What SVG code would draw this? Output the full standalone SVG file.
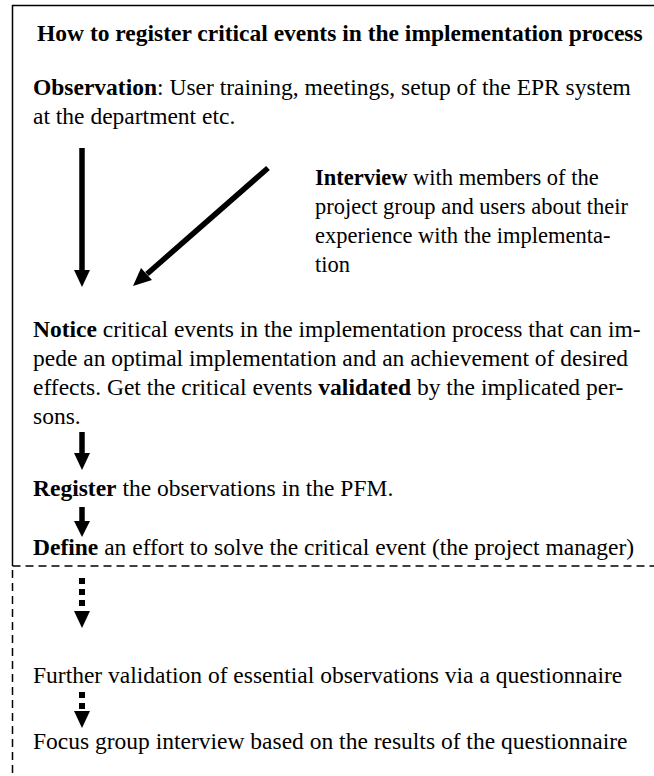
<svg xmlns="http://www.w3.org/2000/svg" width="654" height="776" viewBox="0 0 654 776">
  <style>
    text { font-family: "Liberation Serif", "Times New Roman", serif; font-size: 23.5px; fill: #000; }
    .b { font-weight: bold; }
    .side { font-size: 22.5px; }
    .frame { fill: none; stroke: #000; stroke-width: 1.5; }
    .dash { fill: none; stroke: #000; stroke-width: 1.5; stroke-dasharray: 8 5; }
    .shaft { stroke: #000; stroke-width: 5.5; fill: none; }
    .dots { stroke: #000; stroke-width: 6; fill: none; stroke-dasharray: 6 5; }
    .head { fill: #000; }
  </style>

  <!-- outer frame: solid upper part, dashed lower part -->
  <g id="frame">
    <path class="frame" d="M654,5.5 H12.5 V566"/>
    <path class="dash" d="M12.5,566 H654"/>
    <path class="dash" d="M12.5,570 V776"/>
  </g>

  <g id="title">
    <text class="b" x="37" y="41">How to register critical events in the implementation process</text>
  </g>

  <g id="observation">
    <text x="33" y="95"><tspan class="b">Observation</tspan>: User training, meetings, setup of the EPR system</text>
    <text x="33" y="124">at the department etc.</text>
  </g>

  <g id="interview">
    <text class="side" x="315" y="185"><tspan class="b">Interview</tspan> with members of the</text>
    <text class="side" x="315" y="214">project group and users about their</text>
    <text class="side" x="315" y="243">experience with the implementa-</text>
    <text class="side" x="315" y="272">tion</text>
  </g>

  <g id="notice">
    <text x="33" y="337"><tspan class="b">Notice</tspan> critical events in the implementation process that can im-</text>
    <text x="33" y="366">pede an optimal implementation and an achievement of desired</text>
    <text x="33" y="395">effects. Get the critical events <tspan class="b">validated</tspan> by the implicated per-</text>
    <text x="33" y="424">sons.</text>
  </g>

  <g id="register">
    <text x="33" y="496"><tspan class="b">Register</tspan> the observations in the PFM.</text>
  </g>

  <g id="define">
    <text x="33" y="555"><tspan class="b">Define</tspan> an effort to solve the critical event (the project manager)</text>
  </g>

  <g id="validation">
    <text x="33" y="683">Further validation of essential observations via a questionnaire</text>
  </g>

  <g id="focus-group">
    <text x="33" y="749">Focus group interview based on the results of the questionnaire</text>
  </g>

  <g id="connectors">
    <!-- observation -> notice -->
    <path class="shaft" d="M82,148 V271"/>
    <polygon class="head" points="74,270 90,270 82,287"/>
    <!-- interview -> notice -->
    <path class="shaft" d="M268,168 L147,274"/>
    <polygon class="head" points="152,280 141,268 133,286"/>
    <!-- notice -> register -->
    <path class="shaft" d="M82,432 V454"/>
    <polygon class="head" points="74,453 90,453 82,470"/>
    <!-- register -> define -->
    <path class="shaft" d="M82,507 V522"/>
    <polygon class="head" points="74,521 90,521 82,537"/>
    <!-- define -> further validation -->
    <path class="dots" d="M82,578 V612"/>
    <polygon class="head" points="74,611 90,611 82,628"/>
    <!-- further validation -> focus group -->
    <path class="dots" d="M82,692 V712"/>
    <polygon class="head" points="74,711 90,711 82,728"/>
  </g>
</svg>
